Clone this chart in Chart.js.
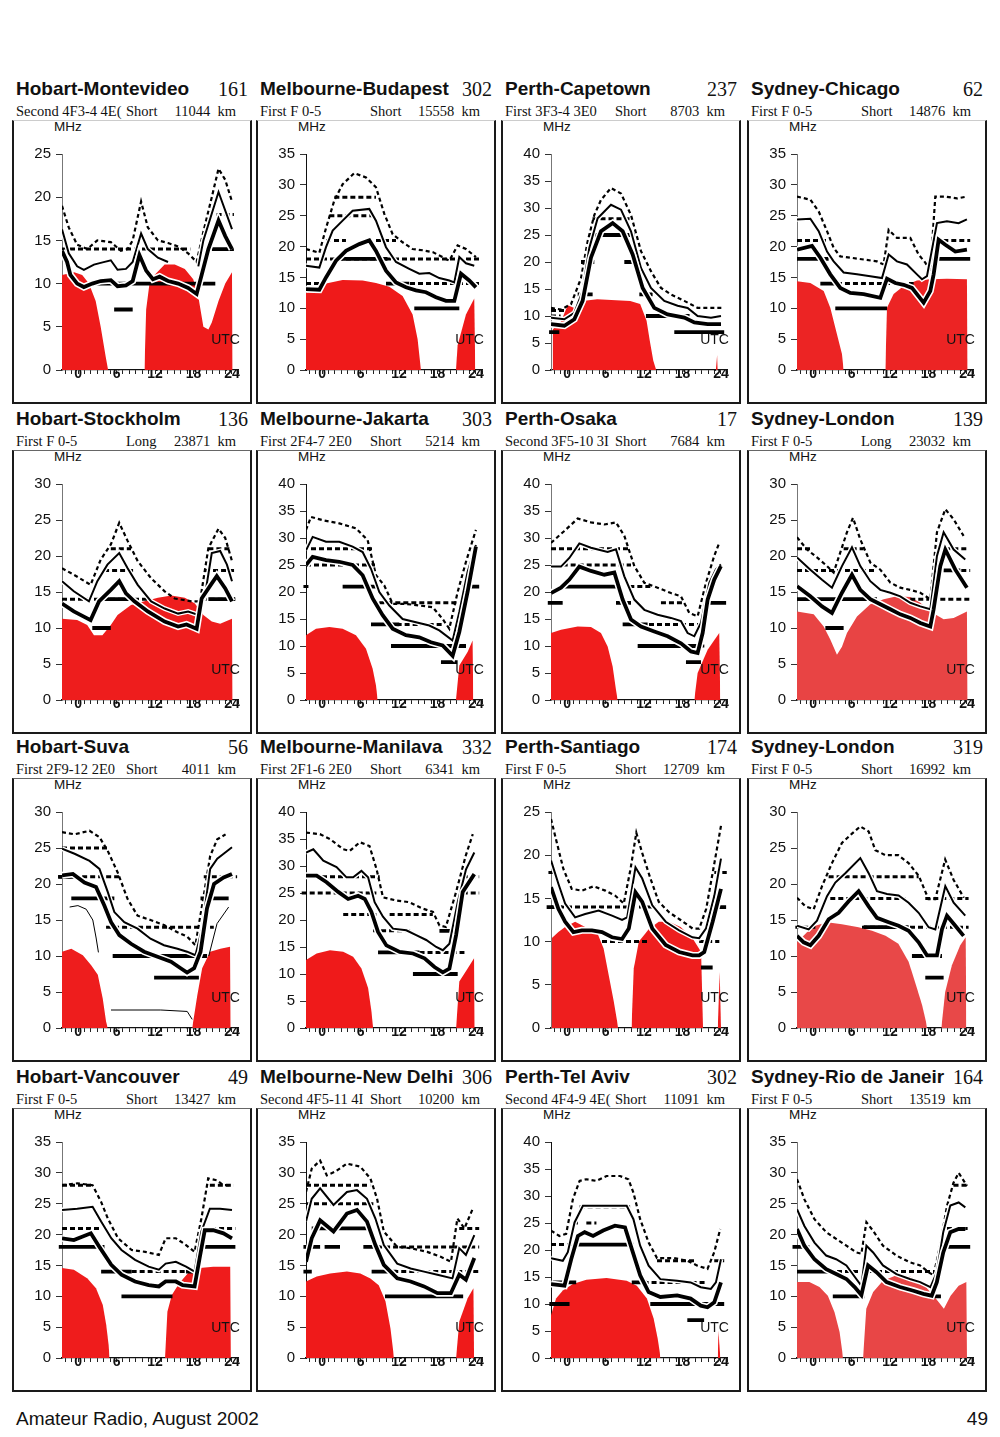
<!DOCTYPE html>
<html><head><meta charset="utf-8">
<script src="https://cdn.jsdelivr.net/npm/chart.js@4.4.0/dist/chart.umd.min.js"></script>
<style>
body{margin:0;background:#fff;width:1000px;height:1437px;position:relative;overflow:hidden;font-family:"Liberation Sans",Arial,sans-serif;color:#111}
.box{position:absolute;border:2px solid #1a1a1a;border-top:1px solid #666;box-sizing:border-box}
.cv{position:absolute}
.title{position:absolute;font-weight:bold;font-size:19px;line-height:24px;white-space:nowrap;transform-origin:left center}
.code{position:absolute;font-family:"Liberation Serif","Times New Roman",serif;font-size:20px;line-height:24px;text-align:right;white-space:nowrap}
.sub{position:absolute;font-family:"Liberation Serif","Times New Roman",serif;font-size:14.5px;line-height:18px;white-space:nowrap}
.mhz{position:absolute;font-size:13.5px;line-height:14px}
.foot{position:absolute;font-size:19px;top:1408px}
</style></head><body>
<div class="foot" style="left:16px">Amateur Radio, August 2002</div>
<div class="foot" style="right:12px">49</div>
<script>
// panel headings, row by row
const titles = ['Hobart-Montevideo','Melbourne-Budapest','Perth-Capetown','Sydney-Chicago',
  'Hobart-Stockholm','Melbourne-Jakarta','Perth-Osaka','Sydney-London',
  'Hobart-Suva','Melbourne-Manilava','Perth-Santiago','Sydney-London',
  'Hobart-Vancouver','Melbourne-New Delhi','Perth-Tel Aviv','Sydney-Rio de Janeir'];
const codes = [161,302,237,62,136,303,17,139,56,332,174,319,49,306,302,164];
const modes = ['Second 4F3-4 4E(','First F 0-5','First 3F3-4 3E0','First F 0-5',
  'First F 0-5','First 2F4-7 2E0','Second 3F5-10 3I','First F 0-5',
  'First 2F9-12 2E0','First 2F1-6 2E0','First F 0-5','First F 0-5',
  'First F 0-5','Second 4F5-11 4I','Second 4F4-9 4E(','First F 0-5'];
const paths = ['Short','Short','Short','Short','Long','Short','Short','Long',
  'Short','Short','Short','Short','Short','Short','Short','Short'];
const distances = [11044,15558,8703,14876,23871,5214,7684,23032,4011,6341,12709,16992,13427,10200,11091,13519];
const yMax = [25,35,40,35,30,40,40,30,30,40,25,30,35,35,40,35];
const hourLabels = [0,6,12,18,24];

// [hour, MHz] ; segments are [fromHour, toHour, MHz]
const hmTop = [[-2.5,19],[-1.45,16.5],[-0.14,14.5],[1.43,14],[3.01,15],[5.11,14.8],[6.68,13.8],[7.73,14],[8.52,15],[9.83,19.5],[10.88,16.5],[12.45,15],[14.03,14.7],[15.6,14.3],[17.17,13.5],[18.49,12.5],[19.54,16],[20.85,20],[21.9,23.3],[22.95,22],[24,19.5]];
const hmMid = [[-2.5,16.3],[-1.45,13.5],[-0.14,12],[0.91,11.6],[2.48,12.2],[3.53,12.4],[5.11,12.7],[6.16,11.6],[7.47,11.7],[8.52,12.5],[9.83,15.8],[10.88,14],[12.45,13],[14.03,12.5],[14.1,null],[18.75,12],[19.54,15],[21.9,20.6],[24,16.3]];
const hmLow = [[-2.5,13.8],[-1.71,12.5],[-1.19,11],[-0.14,10],[0.91,9.6],[2.22,10],[3.53,10.3],[5.11,10.4],[6.16,9.7],[7.47,9.8],[8.52,10.3],[9.57,13.3],[10.62,11.5],[11.67,10.5],[12.72,10.8],[14.03,10.3],[15.6,10],[17.17,9.5],[18.49,8.8],[19.27,11],[20.32,14],[21.9,17.3],[22.95,15.5],[24,14]];
const hmDash = [[-2.5,17.5,14],[21.6,24.3,18]];
const hmBars = [[2.48,21.4,10],[5.63,8.52,7],[20.85,24.3,14]];
const hmRed = [[-2.5,11],[-0.6,11.3],[0.65,11],[1.7,10],[2.75,8],[3.53,5],[4.32,1.5],[4.69,0],[4.7,null],[10.35,0],[10.62,7],[11.14,10],[11.93,11],[13.5,12.2],[15.08,12.2],[16.65,11.7],[17.96,10.5],[18.75,8.5],[19.54,5],[20.32,4.7],[20.85,5.5],[21.9,8],[22.95,10],[24,11.3],[24.1,0]];

const mbTop = [[-2.5,19.6],[-0.42,19],[0.62,23],[1.92,27.5],[3.21,30.1],[5.03,31.9],[6.85,31.2],[8.41,29.6],[9.71,25.3],[11.01,22],[12.56,20.7],[14.12,19.6],[15.68,19.4],[17.24,19.1],[18.8,18.3],[19.84,17.7],[21.14,20.2],[22.44,19.6],[23.99,18.3]];
const mbMid = [[-2.5,16.9],[-0.42,16.6],[0.62,19.9],[1.66,22.6],[3.21,24.2],[4.77,25.8],[7.37,26.1],[8.41,24.2],[9.97,19.9],[11.53,17.5],[13.6,16.4],[15.16,15.6],[16.72,15.7],[18.28,14.9],[19.84,14.5],[20.62,14.2],[21.4,18.3],[22.44,17.3],[23.73,16.9]];
const mbLow = [[-2.5,13.1],[-0.42,13],[0.62,15],[2.18,17.7],[3.73,19.3],[5.81,20.4],[7.37,21],[8.41,19.3],[9.97,16.1],[11.53,14.2],[13.08,13.4],[14.64,12.9],[16.2,12.6],[17.76,11.8],[19.32,11.2],[20.62,11.2],[21.66,15.6],[22.95,14.5],[23.99,13.4]];
const mbDash = [[-2.5,24.5,18],[-2.5,-0.42,14],[9.97,24.5,14],[0.62,3.73,21],[8.41,11.53,21],[1.14,8.41,25],[1.92,8.41,28]];
const mbBars = [[2.18,10.2,18],[9.97,13.6,14],[14.38,21.4,10]];
const mbRed = [[-2.5,12.5],[-0.94,13],[0.62,14],[3.21,14.6],[6.33,14.5],[8.41,14.1],[10.49,13.5],[12.56,12],[14.12,9],[14.9,5],[15.42,0],[15.5,null],[20.88,0],[21.14,4],[22.44,9],[23.73,11.6],[23.89,0]];

const pcTop = [[-2.5,11.5],[-0.94,11.2],[0.62,12.2],[2.18,17],[3.21,23.8],[4.25,28.7],[5.29,31.5],[6.85,33.7],[8.41,32.7],[9.97,28.7],[11.53,22],[13.08,18.3],[14.64,15.2],[16.2,14],[18.28,12.8],[20.36,11.5],[22.44,11.5],[24.2,11.5]];
const pcMid = [[-2.5,9.7],[-0.42,9.4],[1.14,10.6],[2.43,14.6],[3.47,22.6],[4.77,28.1],[6.85,30.6],[8.41,29.7],[9.97,25.7],[11.53,18.9],[13.08,15.2],[15.16,12.8],[17.24,11.9],[18.8,11.5],[20.36,10],[22.44,9.7],[24,10]];
const pcLow = [[-2.5,8.5],[-0.42,8.2],[1.14,9.4],[2.43,12.8],[3.73,20.8],[5.29,25.7],[7.11,27.2],[8.67,25.7],[10.23,21.4],[11.79,15.2],[13.6,11.5],[15.68,10.3],[18.28,9.7],[19.84,8.8],[21.92,8.5],[24,8.5]];
const pcDash = [[-2.5,-0.42,11],[-2.5,-1,10],[3.97,10.23,28]];
const pcBars = [[-2.8,-1.2,7],[16.72,24.5,7],[1.66,3.99,14],[11.27,13.34,14],[2.18,4.25,20],[8.93,11.01,20],[3.47,10.49,25],[12.3,19.1,10]];
const pcRed = [[-2.24,7.5],[-0.94,9],[0.1,12],[1.14,11.5],[2.39,12.8],[4.7,13.1],[9.85,12.8],[11.4,12.2],[12.4,9.1],[12.9,5.4],[13.45,1.7],[13.9,0],[14.0,null],[23.2,0],[23.4,2.8],[23.5,0]];

const scTop = [[-2.5,28.1],[-0.42,27.6],[0.88,25.7],[2.18,22.5],[3.21,19.8],[4.25,18.4],[5.81,18.2],[7.89,17.9],[9.97,17.6],[11.01,17.1],[11.79,22.7],[13.08,21.4],[15.16,21.4],[16.46,18.7],[17.5,17.4],[18.28,16],[19.06,28.1],[20.62,28.1],[22.44,27.8],[23.99,28.1]];
const scMid = [[-2.5,24.4],[-0.42,24.5],[0.88,22.5],[2.18,19.2],[3.21,17.6],[4.77,15.8],[6.85,15.5],[8.93,15.2],[10.75,14.9],[11.79,18.7],[13.08,17.6],[14.64,17.1],[16.2,15.5],[16.98,14.7],[17.76,15.2],[19.32,23.8],[20.88,24.1],[22.69,23.8],[23.99,24.4]];
const scLow = [[-2.5,19.5],[-0.16,20.1],[1.14,18.2],[2.69,15.5],[4.25,13.3],[5.81,12.5],[7.89,12.3],[10.49,11.7],[11.53,14.8],[12.82,14.1],[14.12,13.8],[15.42,13.3],[17.24,10.9],[18.28,12.8],[18.8,15.5],[19.58,21.1],[20.62,20.3],[22.18,19.2],[23.99,19.5]];
const scDash = [[-2.5,2.18,21],[19.06,24.5,21],[3.73,15.68,14]];
const scBars = [[-2.5,2.43,18],[18.28,24.5,18],[1.14,3.73,14],[3.47,11.53,10]];
const scRed = [[-2.5,14.4],[-0.42,14.1],[1.66,12.8],[2.69,10.1],[3.73,5.8],[4.51,2.6],[4.77,0],[4.8,null],[11.27,0],[11.53,10.1],[12.56,12.3],[14.12,13.6],[16.2,14.5],[18.28,14.7],[20.88,14.8],[23.99,14.7],[24.1,0]];

const hsTop = [[-2.5,18.3],[-0.66,17.4],[1.96,16],[3.53,19.5],[5.11,21.6],[6.42,24.6],[7.73,22.1],[9.3,19.3],[11.4,16.9],[13.5,15.1],[15.08,14.1],[17.7,13.7],[19.01,13.7],[20.32,21.1],[21.9,23.8],[22.95,22.5],[24,19.3]];
const hsMid = [[-2.5,16.5],[-0.66,15.1],[1.7,13.7],[3.01,16.5],[4.58,18.8],[6.42,20.4],[7.73,18.3],[9.3,16],[11.4,13.7],[13.5,12.7],[15.6,12],[17.17,12.3],[18.75,11.8],[19.8,14.6],[20.85,20.4],[22.16,20.7],[23.21,18.8],[24,16.5]];
const hsLow = [[-2.5,13.4],[-0.66,12.3],[1.96,11.1],[3.27,13.7],[5.11,15.3],[6.42,16.5],[7.47,14.8],[8.78,13.7],[10.88,12.3],[13.5,10.9],[15.6,10.2],[16.91,10.5],[18.49,9.9],[19.27,14.1],[20.85,16.2],[21.63,17.2],[22.95,15.5],[24,13.7]];
const hsDash = [[-2.5,11.4,14],[19.27,24.5,14],[4.06,8.78,18],[19.8,24.5,18],[5.11,8.26,21],[20.32,23.99,21]];
const hsBars = [[3.8,8.78,14],[20.32,24.5,14],[2.22,5.11,10]];
const hsRed = [[-2.5,11.3],[-0.14,11.1],[1.43,10.4],[2.48,9],[3.8,9],[5.11,10.4],[6.16,11.8],[8.26,13.2],[10.35,13.7],[12.45,14.2],[14.55,14.5],[16.65,14.2],[18.22,13.4],[19.54,11.8],[20.85,10.9],[22.16,10.6],[24,11.3],[24.1,0]];

const mjTop = [[-2.5,31.5],[-1.72,33.9],[0.1,33.3],[2.69,32.7],[5.29,31.8],[7.11,29.6],[8.41,23.1],[9.71,21.2],[11.01,17.8],[13.08,17.8],[15.16,17.5],[17.24,17.2],[18.8,15],[19.84,13.2],[21.14,20],[22.44,25.6],[23.99,31.5]];
const mjMid = [[-2.5,27.7],[-1.46,30.2],[0.62,29.3],[2.69,29.3],[4.77,28.4],[6.33,27.4],[7.63,24.3],[8.93,20],[10.49,17.5],[12.56,15],[14.64,14.4],[16.72,13.8],[18.28,12.9],[20.36,11],[21.4,16.3],[22.69,23.7],[23.99,28.7]];
const mjLow = [[-2.5,25],[-1.46,26.5],[0.62,25.9],[2.69,25.6],[4.77,25],[6.33,23.1],[7.89,18.8],[9.45,15.7],[11.01,13.2],[13.08,12],[15.16,11.6],[16.98,10.7],[18.8,10.1],[20.36,8.2],[21.4,12.6],[22.69,20],[23.99,28.4]];
const mjDash = [[-1.72,7.89,28],[-2.5,8.41,25],[8.93,22.44,18],[7.89,18.8,14],[-2.9,-1.9,21]];
const mjBars = [[3.21,8.67,21],[21.92,24.5,21],[7.63,12.05,14],[10.75,22.44,10],[18.54,21.14,7]];
const mjRed = [[-2.5,12],[-0.94,13.2],[1.14,13.5],[3.21,13.2],[5.29,12],[6.85,9.5],[7.89,5.8],[8.41,2.7],[8.67,0],[8.7,null],[20.88,0],[21.4,6.4],[22.69,8.9],[23.47,11],[23.58,0]];

const poTop = [[-2.5,29.1],[-0.42,31.3],[1.66,33.6],[3.73,32.9],[5.81,32.5],[7.63,32.9],[8.93,30.4],[10.49,24.8],[12.05,21.7],[14.12,20.8],[16.2,19.8],[17.76,19.2],[19.06,16.1],[20.36,15.5],[21.66,21.7],[22.95,26.7],[23.73,29.1]];
const poMid = [[-2.5,24.7],[-0.94,24.7],[0.36,26.3],[1.92,29],[3.73,28.2],[6.33,27.4],[7.63,27.9],[8.93,22.9],[10.49,18.6],[12.05,16.7],[14.12,15.8],[16.2,15.2],[17.76,14.6],[18.8,12.4],[19.84,11.8],[20.88,14.3],[22.18,21.7],[23.21,24.2],[23.99,25.1]];
const poLow = [[-2.5,19.8],[-0.94,20.8],[0.36,22.3],[1.92,24.7],[3.73,23.9],[5.81,23.2],[7.37,23.6],[8.67,18.6],[9.97,14.9],[11.53,13.6],[13.6,12.7],[15.68,11.8],[17.76,10.5],[19.32,9],[20.36,8.7],[21.14,12.4],[21.92,18.6],[22.95,22.3],[23.99,24.8]];
const poDash = [[-2.5,9.97,28],[-0.68,9.97,25],[9.71,13.08,21],[14.64,18.28,18],[11.53,21.4,14],[18.28,21.4,10]];
const poBars = [[-0.42,8.15,21],[-3.0,-0.68,18],[7.63,9.97,18],[21.92,24.8,18],[8.67,12.56,14],[11.01,20.36,10],[18.54,20.88,7]];
const poRed = [[-2.5,12.4],[-0.94,13],[1.66,13.6],[3.73,13.5],[5.29,12.4],[6.33,9.9],[7.11,6.2],[7.63,1.9],[7.89,0],[7.9,null],[19.84,0],[20.36,5],[21.92,9.3],[23.73,12.4],[23.89,0]];

const sl1Top = [[-2.5,22.6],[-0.94,20.9],[0.62,19.8],[2.18,18.6],[3.21,17.7],[4.25,20.5],[5.29,23.3],[6.23,25.3],[7.37,22.3],[8.93,19.1],[10.49,18.1],[12.05,16.3],[13.6,15.6],[15.16,15.3],[16.72,14.9],[18.28,14],[19.32,23.3],[20.62,26.5],[21.92,25.1],[23.47,22.8]];
const sl1Mid = [[-2.5,19.8],[-0.42,18.1],[1.4,16.7],[2.95,15.6],[4.51,18.6],[6.07,21.2],[7.37,18.6],[8.93,16.5],[10.49,15.3],[12.05,14.9],[13.6,14.4],[15.16,13.5],[16.72,13],[18.28,12.6],[19.32,20],[20.36,23.3],[21.92,20.9],[23.73,19.5]];
const sl1Low = [[-2.5,15.8],[-0.42,14.4],[1.4,13],[2.95,12.1],[4.51,14.9],[6.07,17.4],[7.37,15.3],[8.93,14],[10.49,13.3],[12.05,12.6],[13.6,11.9],[15.16,11.4],[16.72,10.7],[18.28,10.2],[18.8,12.6],[19.84,18.6],[20.62,20.9],[22.18,18.1],[23.99,15.6]];
const sl1Dash = [[-2.5,-0.42,21],[4.77,7.89,21],[20.62,24.2,21],[-2.5,9.97,18],[20.62,24.5,18],[15.16,18.28,14],[19.84,24.5,14]];
const sl1Bars = [[-2.5,9.97,14],[20.36,22.95,18],[1.92,4.77,10]];
const sl1Red = [[-2.5,12.3],[0.1,11.9],[1.66,10.2],[2.69,8.4],[3.73,6.3],[4.51,7.4],[5.29,9.3],[6.85,11.6],[8.93,13.3],[11.01,14],[13.08,14.4],[15.16,14.3],[16.72,13.5],[18.28,12.3],[20.36,11.2],[21.92,11.4],[23.99,12.3],[24.1,0]];

const hsuTop = [[-2.5,27.2],[-0.54,26.9],[1.79,27.4],[3.34,26.5],[4.63,24.6],[6.18,21.6],[7.73,17.9],[9.28,15.6],[11.3,15],[13.4,14.3],[15.5,13.3],[17.0,12.7],[18.3,11.5],[19.6,18.4],[20.6,23.9],[21.7,26.2],[23.0,26.9]];
const hsuMid = [[-2.5,24.9],[-0.54,24.2],[1.79,23.2],[3.34,22.1],[4.63,18.9],[5.66,16.1],[7.21,14.7],[9.28,13.8],[11.3,12.4],[13.4,11.5],[15.5,11],[17.0,10.6],[18.3,10.1],[19.34,13.8],[20.6,22.1],[21.7,23.5],[22.7,24.2],[24,25.1]];
const hsuLow = [[-2.5,21.2],[-0.8,21.4],[1.0,20.2],[2.8,19.6],[4.1,17],[5.15,14.7],[6.44,12.9],[8.26,11.7],[10.3,10.6],[12.4,9.9],[14.5,9.2],[16.0,8.3],[17.0,7.7],[18.1,8.3],[19.1,10.6],[20.1,16.6],[21.2,20],[22.7,20.9],[24,21.4]];
const hsuHair = [[-1.31,16.8],[-0.02,17],[1.27,16.5],[2.3,15],[2.82,12.5],[3.18,10.5],[3.2,null],[5.14,2.5],[12.9,2.5],[17.02,2.3],[17.8,1.2],[17.9,null],[20.38,10],[21.67,14.5],[23.48,16.8]];
const hsuDash = [[-2.5,4.63,25],[-3.1,6.7,21],[19.6,24.8,21],[4.37,21.16,14],[11.34,18.57,10]];
const hsuBars = [[-3.1,-0.54,21],[-1.05,5.66,18],[19.09,23.48,18],[5.4,20.12,10],[11.86,18.84,7]];
const hsuRed = [[-2.5,10.6],[-1.05,11],[0.75,10.1],[2.05,8.7],[3.08,7.4],[3.85,4.1],[4.37,0.9],[4.63,0],[4.7,null],[17.8,0],[18.6,4.6],[19.35,8.3],[20.6,10.6],[22.2,11],[23.7,11.3],[23.8,0]];

const mmTop = [[-2.5,36.2],[-0.33,35.9],[1.23,35],[3.3,33.1],[4.33,32.8],[5.9,34.4],[7.4,33.7],[8.5,29.4],[9.5,24.2],[11.6,23.6],[13.6,23.3],[15.7,22.1],[17.3,21.5],[18.3,19],[19.3,18.7],[20.9,25.2],[22.4,31.9],[23.5,35.9]];
const mmMid = [[-2.5,32.5],[-1.36,33.1],[0.2,31],[2.26,29.8],[3.81,27.9],[4.85,27.9],[6.14,29.1],[7.18,27.9],[8.2,23.3],[9.5,20.6],[11.06,18.4],[13.13,18.1],[14.68,17.2],[16.24,16.3],[17.8,15],[18.83,14.4],[19.86,15.6],[21.15,23.3],[22.45,29.4],[23.74,32.5]];
const mmLow = [[-2.5,28.2],[-0.84,28.2],[0.71,27],[2.52,25.2],[4.07,23.9],[5.63,24.5],[6.66,23.9],[7.7,21.5],[8.73,17.8],[10.03,15.3],[12.1,14.1],[14.17,13.8],[15.98,12.9],[17.53,11.3],[18.83,10.3],[19.86,11],[20.9,17.2],[21.93,25.2],[23.74,28.5]];
const mmDash = [[-2.5,8.99,28],[-3.17,8.47,25],[21.93,24.5,25],[3.3,8.47,21],[10.54,17.27,21],[7.96,14.17,18],[15.2,22.2,14],[21.93,24.5,28]];
const mmBars = [[8.73,15.2,14],[14.17,21.15,10],[18.3,20.4,18]];
const mmRed = [[-2.5,12.6],[-0.84,13.8],[1.23,14.4],[3.3,14.1],[4.85,13.2],[6.14,11],[7.18,7.4],[7.7,3.1],[7.96,0],[8.0,null],[20.9,0],[21.4,8.6],[22.7,11],[23.7,12.9],[23.8,0]];

const psTop = [[-2.5,24.2],[-1.61,21.5],[-0.57,18.4],[0.74,16.1],[2.31,15.9],[4.14,16.4],[5.97,15.9],[7.54,15.3],[8.84,14.4],[9.9,18.4],[10.8,22.6],[11.7,20.3],[13.0,17.3],[14.3,14.6],[15.9,13.4],[17.7,12.5],[19.6,11.5],[20.6,11.5],[21.7,13.8],[23.0,19.2],[24.0,23.4]];
const psMid = [[-2.5,19.4],[-1.35,16.7],[-0.3,14.4],[1.26,12.8],[2.83,13.2],[4.92,13.6],[7.01,13],[8.58,12.5],[9.37,12.8],[10.67,18.6],[11.72,17.3],[13.29,14.2],[15.38,12.3],[17.47,11.3],[19.56,10.5],[20.6,10.4],[21.65,11.5],[22.96,15.3],[24.0,19.6]];
const psLow = [[-2.5,16.3],[-1.35,13.8],[-0.3,12.3],[1.0,11.1],[2.31,11.3],[3.88,11.3],[5.45,11.1],[7.01,10.5],[8.58,10.3],[9.63,11.5],[10.67,15.7],[11.72,14.6],[13.29,11.5],[15.38,9.6],[17.47,8.8],[19.56,8.4],[20.6,8.4],[21.39,8.8],[22.7,12.3],[24.0,16.1]];
const psDash = [[-2.5,13.8,14],[5.45,12.76,10],[-2.9,-1.9,18],[22.96,24.9,18],[20.6,23.74,10]];
const psBars = [[-3.18,-0.83,14],[22.17,24.8,14],[20.87,22.7,7]];
const psRed = [[-2.4,10.4],[-1.35,11.1],[-0.3,11.7],[1.26,12.3],[3.35,11.5],[4.66,11.1],[5.7,9.2],[6.5,6.1],[7.28,3.1],[7.8,0.8],[7.95,0],[8.0,null],[10.05,0],[10.4,6.9],[11.2,10],[12.8,11.5],[14.3,12.3],[15.9,12.3],[17.7,11.7],[19.56,10.4],[20.9,8.8],[21.2,0],[21.3,null],[23.5,0],[23.8,6.5],[24.0,0]];

const sl2Top = [[-2.5,18.1],[-1.2,16.9],[0.1,16.5],[1.4,19.7],[2.95,22.9],[4.5,25.7],[6.07,27],[7.37,28],[8.67,27.3],[9.71,24.7],[11.3,24],[13.3,24],[14.9,22.9],[16.5,21.1],[18.0,17.9],[19.06,17.9],[20.6,23.4],[21.9,20.6],[23.5,18.1]];
const sl2Mid = [[-2.5,14.2],[-0.68,13.7],[0.62,14.9],[2.18,18.3],[3.47,20.2],[5.03,21.5],[7.37,23.6],[8.67,21.5],[9.97,19],[11.53,18.6],[13.34,18.4],[14.9,17.4],[16.46,16],[18.02,14],[19.06,13.7],[20.62,19.7],[21.92,17.4],[23.73,15.6]];
const sl2Low = [[-2.5,12.8],[-1.46,11.9],[-0.42,11.5],[0.88,12.8],[2.43,15.1],[3.99,16],[5.55,17.6],[7.11,19],[8.67,16.9],[9.97,15.3],[11.79,14.7],[13.34,14.2],[14.9,13.5],[16.46,11.9],[17.76,10.1],[19.32,10.1],[20.1,13.7],[20.88,15.6],[22.18,14.2],[23.47,12.8]];
const sl2Dash = [[2.43,16.46,21],[2.69,14.38,18],[17.5,24.25,18],[-2.76,0.36,14],[7.63,24.25,14]];
const sl2Bars = [[7.89,14.9,14],[15.42,20.1,10],[17.5,20.36,7]];
const sl2Red = [[-2.5,11.9],[-0.94,13.3],[0.36,14.2],[2.18,14.7],[4.5,14.4],[7.1,14],[9.2,13.5],[11.3,12.8],[13.3,11.7],[14.9,9.2],[15.9,6.4],[17.0,3.2],[17.6,0.9],[17.76,0],[17.8,null],[20.0,0],[20.6,5],[21.65,8.7],[22.95,11.5],[23.8,12.6],[23.9,0]];

const hvTop = [[-2.5,28],[-0.12,28.3],[2.27,28],[3.6,25.3],[4.65,22.6],[6.24,19.4],[8.36,17.5],[10.48,17.2],[12.6,16.7],[13.66,19.4],[15.25,19.4],[16.84,18.3],[18.17,17.2],[19.23,22.6],[20.29,29.1],[21.61,28.8],[22.67,28],[24,28]];
const hvMid = [[-2.5,24],[-0.12,24.2],[2.27,24.5],[3.6,22.1],[5.18,19.4],[6.77,17.5],[8.89,15.9],[11.01,14.8],[12.6,14.3],[13.66,15.3],[15.25,15.6],[16.84,14.8],[18.17,14],[19.23,20.5],[20.55,24.2],[22.14,24.2],[24,24]];
const hvLow = [[-2.5,19.4],[-0.65,19.1],[2.0,20.2],[3.33,18],[5.18,15.1],[6.77,13.5],[8.89,12.4],[11.01,11.8],[12.6,11.6],[13.66,12.4],[15.25,12.4],[16.31,11.8],[18.17,11.6],[18.96,16.2],[19.76,20.7],[21.08,20.7],[22.67,20.2],[24,19.4]];
const hvDash = [[-2.5,2.27,28],[20.55,24.3,28],[-2.5,3.6,21],[19.49,24.53,21],[8.36,16.84,14]];
const hvBars = [[-3.0,4.12,18],[18.7,24.53,18],[3.6,8.36,14],[16.84,18.17,14],[6.77,14.72,10]];
const hvRed = [[-2.5,14.6],[-0.65,14.3],[1.47,12.9],[2.8,11.3],[3.86,8.6],[4.39,5.4],[4.76,2.2],[4.92,0],[5.0,null],[13.56,0],[13.93,7.5],[14.62,10.2],[15.78,12.1],[17.37,14],[18.96,14.6],[21.08,14.8],[23.73,14.8],[23.83,0]];

const mnTop = [[-2.5,26.9],[-1.6,30.7],[-0.3,32],[0.74,29.6],[2.05,30.2],[3.88,31.5],[5.97,31],[7.54,29.1],[8.58,25.8],[9.63,20.5],[11.7,18],[13.8,17.8],[16.4,17.2],[18.5,16.4],[20.1,15.6],[21.1,22.6],[22.2,21],[23.5,24.2]];
const mnMid = [[-2.5,22.1],[-1.61,25.8],[-0.3,27.5],[1.79,24.8],[3.88,26.9],[5.45,27.2],[7.01,25.8],[8.32,22.6],[9.63,18.3],[11.72,15.3],[13.81,14.5],[15.9,14],[17.99,13.5],[20.34,12.9],[21.39,17.8],[22.43,16.7],[23.74,19.9]];
const mnLow = [[-2.5,15.6],[-1.61,19.4],[-0.3,22.3],[1.79,20.5],[3.88,23.4],[5.45,24],[7.01,22.1],[8.32,18.3],[9.63,15.1],[11.72,12.9],[13.81,12.4],[15.9,11.6],[17.99,10.5],[20.08,10.5],[21.39,13.5],[22.43,12.7],[23.74,16.2]];
const mnDash = [[-2.5,7.5,28],[-2.5,8.0,25],[21.39,24.5,21],[8.58,20.6,18],[20.6,24.5,18],[11.1,24.5,14]];
const mnBars = [[-1.61,7.0,21],[-2.9,-0.3,18],[0.4,2.8,18],[6.44,9.0,18],[-2.9,-1.6,14],[7.73,11.63,14],[9.81,22.0,10]];
const mnRed = [[-2.5,12.4],[-0.83,13.2],[1.26,13.7],[3.88,14],[5.97,13.7],[7.54,12.9],[8.84,11.8],[9.89,9.2],[10.67,4.8],[11.1,1.1],[11.2,0],[11.3,null],[20.9,0],[21.4,5.9],[22.7,9.7],[23.6,11.3],[23.7,0]];

const ptTop = [[-2.5,23.6],[-1.19,22.6],[-0.14,23],[0.91,29.4],[1.96,32.8],[3.01,33.1],[4.58,32.8],[6.16,33.7],[8.26,33.7],[9.57,33.1],[10.35,30.6],[11.4,25.7],[12.72,21.4],[14.03,18.5],[16.65,18.5],[18.75,18],[20.32,17.1],[21.9,16.5],[22.95,19.6],[23.89,23.9]];
const ptMid = [[-2.5,18.5],[-0.66,18],[0.12,19.6],[1.17,25.1],[2.48,28.2],[4.58,28.2],[7.21,28.2],[9.3,28.2],[10.35,25.7],[11.4,20.8],[12.72,17.1],[14.55,14.6],[17.17,14.3],[19.27,14],[20.85,13.1],[22.42,12.8],[23.21,14],[24,18.3]];
const ptLow = [[-2.5,13.7],[-0.4,13.4],[0.65,18.3],[1.7,22.6],[2.75,23.3],[4.06,22.6],[5.63,23.6],[7.47,24.5],[9.04,24.2],[10.09,20.2],[11.4,15.3],[12.72,12.2],[14.55,11.3],[17.17,11.6],[19.27,11],[20.85,9.7],[21.9,9.4],[22.95,10.3],[24,14]];
const ptDash = [[1.96,9.83,28],[0.91,1.96,25],[3.01,4.58,25],[-2.5,0.91,21],[14.03,19.8,18],[22.95,24.5,18],[11.93,21.9,14]];
const ptBars = [[1.17,10.35,21],[-2.24,1.43,14],[10.09,12.45,14],[-2.76,0.39,10],[12.98,24.5,10],[18.75,21.37,7]];
const ptRed = [[-2.5,7.9],[-1.71,11],[-0.66,12.5],[0.91,13.7],[3.01,14.5],[6.16,14.8],[9.3,14.3],[10.88,13.4],[12.45,11],[13.5,7.3],[14.13,3.6],[14.45,1.1],[14.55,0],[14.6,null],[23.5,0],[23.6,5],[23.9,0]];

const srTop = [[-2.5,29],[-1.35,25.7],[0.22,22.5],[2.05,20.4],[3.6,19.3],[5.2,18.2],[6.75,17.1],[7.54,16.9],[8.32,22],[9.37,20.6],[10.9,18.2],[13.0,16.6],[15.1,15.5],[16.7,15],[18.0,13.9],[18.8,13.4],[19.8,18.2],[20.9,24.7],[21.9,28.4],[22.7,30],[24.0,27.9]];
const srMid = [[-2.5,24.1],[-1.35,21.4],[0.22,18.7],[2.05,16.6],[3.6,16],[5.2,15],[6.75,12.8],[7.54,11.7],[8.32,18.2],[9.37,17.1],[10.9,15],[13.0,13.6],[15.1,12.8],[16.7,12.3],[18.3,11.5],[19.3,13.9],[20.3,20.4],[21.4,24.7],[22.7,25.2],[23.74,24.4]];
const srLow = [[-2.5,20.9],[-1.35,18.2],[0.22,16],[2.05,14.4],[3.6,13.6],[5.2,12.8],[6.49,11.5],[7.54,10.2],[8.58,15],[9.89,13.9],[11.46,12.3],[13.55,11.5],[15.64,10.9],[17.2,10.4],[18.5,10.1],[19.3,12.3],[20.3,17.1],[21.4,20.4],[22.7,20.9],[23.74,20.9]];
const srDash = [[21.9,24.0,28],[20.87,24.1,21],[-2.5,19.8,14]];
const srBars = [[-3.2,-0.58,18],[20.87,24.5,18],[-2.5,3.08,14],[3.08,8.0,10],[18.1,19.94,10]];
const srRed = [[-2.5,12.3],[-0.57,12.3],[1.0,11.5],[2.31,10.1],[3.35,7.4],[4.14,4.2],[4.56,1],[4.66,0],[4.7,null],[7.8,0],[8.3,8],[9.37,10.7],[10.9,12.5],[13.0,13.4],[15.1,13.2],[16.9,12.3],[18.8,10.1],[20.4,8],[21.45,10.1],[22.7,11.7],[23.9,12.3],[24.0,0]];

const panels = [
  {top: hmTop, mid: hmMid, low: hmLow, dash: hmDash, bars: hmBars, red: hmRed},
  {top: mbTop, mid: mbMid, low: mbLow, dash: mbDash, bars: mbBars, red: mbRed},
  {top: pcTop, mid: pcMid, low: pcLow, dash: pcDash, bars: pcBars, red: pcRed},
  {top: scTop, mid: scMid, low: scLow, dash: scDash, bars: scBars, red: scRed},
  {top: hsTop, mid: hsMid, low: hsLow, dash: hsDash, bars: hsBars, red: hsRed},
  {top: mjTop, mid: mjMid, low: mjLow, dash: mjDash, bars: mjBars, red: mjRed},
  {top: poTop, mid: poMid, low: poLow, dash: poDash, bars: poBars, red: poRed},
  {top: sl1Top, mid: sl1Mid, low: sl1Low, dash: sl1Dash, bars: sl1Bars, red: sl1Red},
  {top: hsuTop, mid: hsuMid, low: hsuLow, dash: hsuDash, bars: hsuBars, red: hsuRed, hair: hsuHair},
  {top: mmTop, mid: mmMid, low: mmLow, dash: mmDash, bars: mmBars, red: mmRed},
  {top: psTop, mid: psMid, low: psLow, dash: psDash, bars: psBars, red: psRed},
  {top: sl2Top, mid: sl2Mid, low: sl2Low, dash: sl2Dash, bars: sl2Bars, red: sl2Red},
  {top: hvTop, mid: hvMid, low: hvLow, dash: hvDash, bars: hvBars, red: hvRed},
  {top: mnTop, mid: mnMid, low: mnLow, dash: mnDash, bars: mnBars, red: mnRed},
  {top: ptTop, mid: ptMid, low: ptLow, dash: ptDash, bars: ptBars, red: ptRed},
  {top: srTop, mid: srMid, low: srLow, dash: srDash, bars: srBars, red: srRed}
];

// layout / style
const colLeft = [12, 256, 501, 747];
const rowTop = [120, 450, 778, 1108];
const BOX_W = 240, BOX_H = 284;
const redShade = ['#ee1b1b','#ef1a1a','#f01c1c','#ec2424','#ee1d1d','#ef1a1a','#f01c1c','#e84444',
  '#ee1d1d','#ef1a1a','#ee1e1e','#e84848','#ef1c1c','#ef1a1a','#f01c1c','#e84646'];
const solidAxis = [false,true,false,false,false,true,false,false,false,true,false,false,false,true,true,false];
const FONT = '"Liberation Sans", Arial, sans-serif';

Chart.defaults.font.family = FONT;
Chart.defaults.color = '#111';

function pts(list) { return list.map(p => ({x: p[0], y: p[1]})); }
function segs(list) {
  const out = [];
  list.forEach(s => { out.push({x: s[0], y: s[2]}, {x: s[1], y: s[2]}, {x: s[1], y: null}); });
  return out;
}
function line(data, width, color, order, extra) {
  return Object.assign({data: data, borderColor: color, borderWidth: width, fill: false,
    pointRadius: 0, spanGaps: false, tension: 0, order: order}, extra || {});
}

const utcLabel = {
  id: 'utc',
  afterDatasetsDraw(chart) {
    const {ctx, scales: {x, y}} = chart;
    ctx.save();
    ctx.font = '14px ' + FONT;
    ctx.fillStyle = '#111';
    ctx.textAlign = 'center';
    ctx.textBaseline = 'middle';
    ctx.fillText('UTC', x.getPixelForValue(23), y.bottom - 30);
    ctx.restore();
  }
};

function addDiv(cls, left, top, html, extra) {
  const d = document.createElement('div');
  d.className = cls;
  d.style.left = left + 'px';
  d.style.top = top + 'px';
  d.innerHTML = html;
  if (extra) Object.assign(d.style, extra);
  document.body.appendChild(d);
  return d;
}

panels.forEach((p, i) => {
  const L = colLeft[i % 4], T = rowTop[Math.floor(i / 4)];

  const box = addDiv('box', L, T, '', {width: BOX_W + 'px', height: BOX_H + 'px'});
  if (i < 4) box.style.borderTopColor = '#ccc';

  const code = addDiv('code', L, T - 43, '<span>' + codes[i] + '</span>', {width: (BOX_W - 4) + 'px'});
  const t = addDiv('title', L + 4, T - 43, titles[i]);
  const avail = BOX_W - 8 - code.firstChild.offsetWidth - 4;
  if (t.offsetWidth > avail) t.style.transform = 'scaleX(' + (avail / t.offsetWidth).toFixed(3) + ')';

  addDiv('sub', L + 4, T - 18, modes[i]);
  addDiv('sub', L + 114, T - 18, paths[i]);
  addDiv('sub', L, T - 18, distances[i] + '&nbsp; km', {width: (BOX_W - 16) + 'px', textAlign: 'right'});
  addDiv('mhz', L + 42, T, 'MHz');

  const cv = document.createElement('canvas');
  cv.className = 'cv';
  cv.width = BOX_W; cv.height = BOX_H;
  cv.style.left = L + 'px'; cv.style.top = T + 'px';
  cv.style.width = BOX_W + 'px'; cv.style.height = BOX_H + 'px';
  document.body.appendChild(cv);

  const datasets = [
    line(pts(p.low), 3.8, '#000', 1),
    line(pts(p.low), 7, '#fff', 2),
    line(pts(p.mid), 2, '#000', 3),
    line(pts(p.mid), 4.8, '#fff', 4),
    line(pts(p.top), 2.2, '#000', 5, {borderDash: [4, 3]}),
    line(segs(p.dash), 3, '#000', 6, {borderDash: [5, 3], clip: 6}),
    line(segs(p.bars), 3.8, '#000', 7, {clip: 6}),
    line(pts(p.red), 0, redShade[i], 10, {fill: 'origin', backgroundColor: redShade[i]})
  ];
  if (p.hair) datasets.push(line(pts(p.hair), 1, '#000', 5));

  new Chart(cv, {
    type: 'line',
    data: {datasets},
    options: {
      responsive: false,
      animation: false,
      layout: {padding: {top: 34, right: 13.6, left: 0, bottom: 0}},
      plugins: {legend: {display: false}, tooltip: {enabled: false}},
      scales: {
        x: {
          type: 'linear', min: -2.5, max: 25,
          afterFit: s => { s.height = BOX_H - 250; },
          border: {display: true, color: '#111', width: 1.2},
          grid: {drawOnChartArea: false, tickLength: 4, color: '#222'},
          ticks: {
            stepSize: 1, includeBounds: false, autoSkip: false, maxRotation: 0, padding: -8,
            font: {size: 14, weight: 'bold'}, color: '#111',
            callback: v => hourLabels.includes(v) ? String(v) : ''
          }
        },
        y: {
          min: 0, max: yMax[i],
          afterFit: s => { s.width = 50; },
          border: solidAxis[i] ? {display: true, color: '#111', width: 1} : {display: true, color: '#777', width: 1, dash: [1, 2]},
          grid: {drawOnChartArea: false, tickLength: 6, color: '#333'},
          ticks: {stepSize: 5, autoSkip: false, padding: 5, font: {size: 15}, color: '#111'}
        }
      }
    },
    plugins: [utcLabel]
  });
});
</script>
</body></html>
